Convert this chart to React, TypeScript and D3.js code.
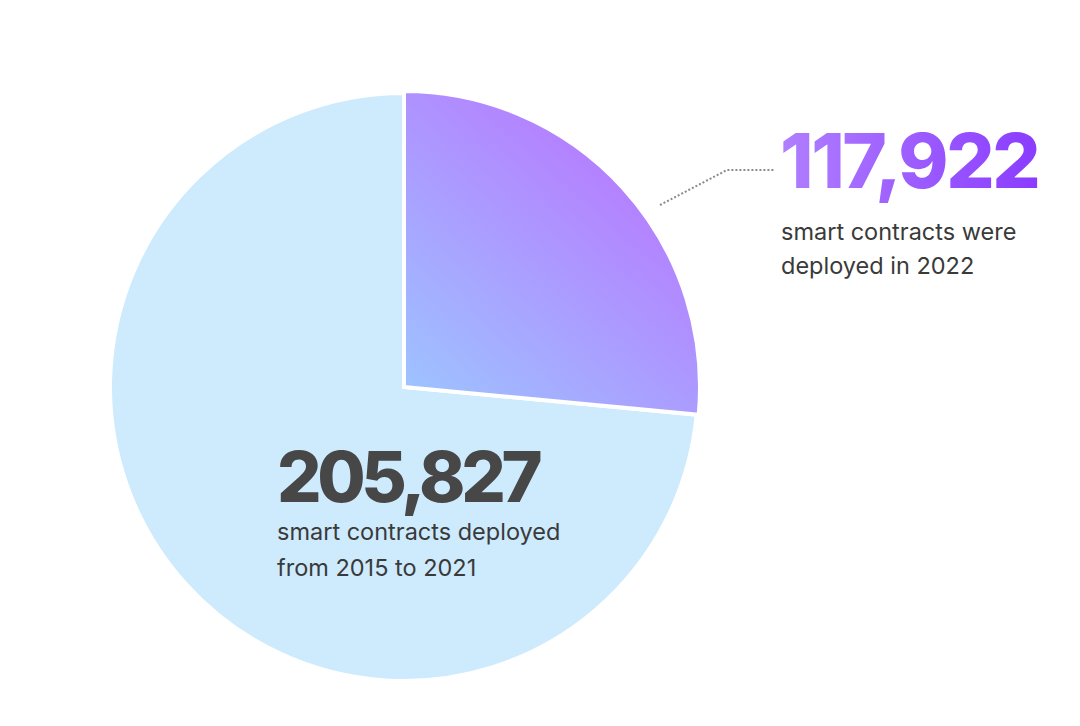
import React from "react";
import * as d3 from "d3";

const categories = ["2022", "2015–2021"];
// Slice shares as drawn in the picture (percent of the circle)
const sliceShares = [26.5, 73.5];
const counts = [117922, 205827];
const captions = [
  ["smart contracts were", "deployed in 2022"],
  ["smart contracts deployed", "from 2015 to 2021"],
];

const W = 1080;
const H = 726;
const cx = 404;
const cy = 387;
const R = 294;

export default function App() {
  const pie = d3.pie<number>().sort(null).value((d) => d);
  const arcs = pie(sliceShares);
  const arcGen = d3.arc<d3.PieArcDatum<number>>().innerRadius(0);
  const fmt = d3.format(",");
  const leader = d3.line()([
    [660, 205],
    [727, 170],
    [775, 170],
  ]);

  return (
    <svg width={W} height={H} style={{ position: "absolute", left: 0, top: 0, background: "#fff" }}>
      <defs>
        <linearGradient id="sliceGrad" gradientUnits="userSpaceOnUse" x1={cx} y1={cy} x2={cx + 230} y2={cy - 260}>
          <stop offset="0%" stopColor="#9cc8ff" />
          <stop offset="100%" stopColor="#b67bff" />
        </linearGradient>
        <linearGradient id="textGrad" x1="0" y1="0" x2="1" y2="0">
          <stop offset="0%" stopColor="#b07fff" />
          <stop offset="100%" stopColor="#8a3cff" />
        </linearGradient>
      </defs>
      <g transform={`translate(${cx},${cy})`}>
        {arcs
          .slice()
          .reverse()
          .map((a) => (
            <path
              key={categories[a.index]}
              d={arcGen.outerRadius(a.index === 0 ? R + 2 : R)(a) || ""}
              fill={a.index === 0 ? "url(#sliceGrad)" : "#cdebfd"}
              stroke="#fff"
              strokeWidth={4}
              strokeLinejoin="miter"
            />
          ))}
      </g>
      <path d={leader || ""} fill="none" stroke="#8a8a8a" strokeWidth={2} strokeDasharray="2 2" />
      <text
        x={780}
        y={188}
        fontFamily="Inter, 'Liberation Sans', sans-serif"
        fontWeight={800}
        fontSize={76}
        letterSpacing={-2.4}
        fill="url(#textGrad)"
      >
        {fmt(counts[0])}
      </text>
      {captions[0].map((t) => (
        <text
          key={t}
          x={781}
          y={240 + captions[0].indexOf(t) * 34}
          fontFamily="Inter, 'Liberation Sans', sans-serif"
          fontSize={23.5}
          letterSpacing={0}
          fill="#3a3a3a"
        >
          {t}
        </text>
      ))}
      <text
        x={277}
        y={502}
        fontFamily="Inter, 'Liberation Sans', sans-serif"
        fontWeight={800}
        fontSize={70}
        letterSpacing={-4.4}
        fill="#474747"
      >
        {fmt(counts[1])}
      </text>
      {captions[1].map((t) => (
        <text
          key={t}
          x={277}
          y={540 + captions[1].indexOf(t) * 36}
          fontFamily="Inter, 'Liberation Sans', sans-serif"
          fontSize={23.5}
          letterSpacing={0}
          fill="#3a3a3a"
        >
          {t}
        </text>
      ))}
    </svg>
  );
}
